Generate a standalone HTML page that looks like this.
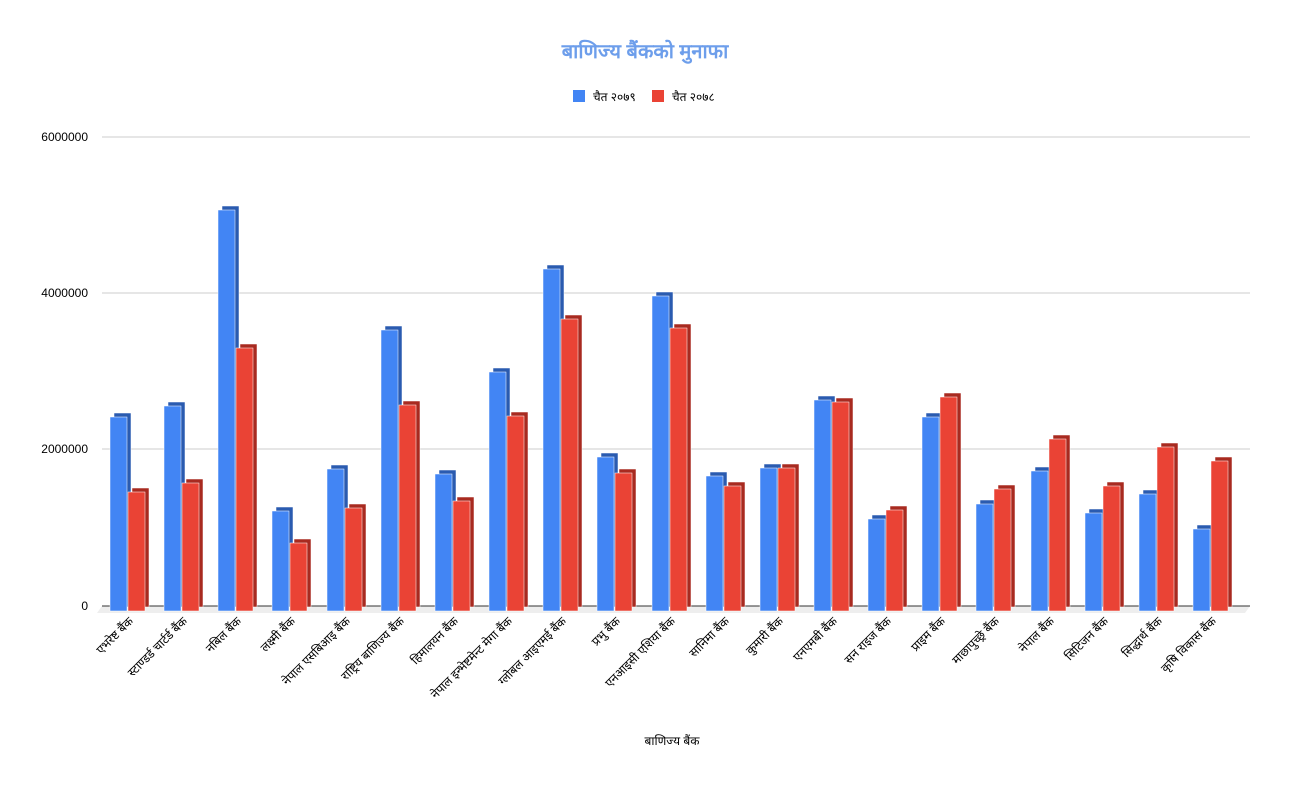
<!DOCTYPE html>
<html><head><meta charset="utf-8"><style>body{margin:0;background:#fff}svg{display:block;font-family:"Liberation Sans","Noto Sans CJK SC",sans-serif}
.b rect{fill:#4285f4}.b rect.d{fill:#2a5bb0}.r rect{fill:#ea4335}.r rect.d{fill:#a82a20}
rect{stroke:#fff;stroke-width:0.5}</style></head><body>
<svg width="1289" height="787" xmlns="http://www.w3.org/2000/svg">
<text x="645" y="58" text-anchor="middle" font-size="20" font-weight="bold" fill="#6d9eeb">बाणिज्य बैंकको मुनाफा</text>
<rect x="573" y="90" width="12" height="12" fill="#4285f4" style="stroke:none"/><text x="593" y="101" font-size="12">चैत २०७९</text>
<rect x="652" y="90" width="12" height="12" fill="#ea4335" style="stroke:none"/><text x="672" y="101" font-size="12">चैत २०७८</text>
<g stroke="#ccc" stroke-width="1"><line x1="102" y1="137" x2="1250" y2="137"/><line x1="102" y1="293" x2="1250" y2="293"/><line x1="102" y1="449" x2="1250" y2="449"/></g>
<polygon points="102,606 1250,606 1245,613 97,613" fill="#eee"/>
<line x1="102" y1="606" x2="1250" y2="606" stroke="#333"/>
<g font-size="12" text-anchor="end"><text x="88" y="141">6000000</text><text x="88" y="297">4000000</text><text x="88" y="453">2000000</text><text x="88" y="610">0</text></g>
<g class="b">
<rect class="d" x="114" y="413" width="17" height="194"/><rect x="110" y="417" width="17" height="194"/>
<rect class="d" x="168" y="402" width="17" height="205"/><rect x="164" y="406" width="17" height="205"/>
<rect class="d" x="222" y="206" width="17" height="401"/><rect x="218" y="210" width="17" height="401"/>
<rect class="d" x="276" y="507" width="17" height="100"/><rect x="272" y="511" width="17" height="100"/>
<rect class="d" x="331" y="465" width="17" height="142"/><rect x="327" y="469" width="17" height="142"/>
<rect class="d" x="385" y="326" width="17" height="281"/><rect x="381" y="330" width="17" height="281"/>
<rect class="d" x="439" y="470" width="17" height="137"/><rect x="435" y="474" width="17" height="137"/>
<rect class="d" x="493" y="368" width="17" height="239"/><rect x="489" y="372" width="17" height="239"/>
<rect class="d" x="547" y="265" width="17" height="342"/><rect x="543" y="269" width="17" height="342"/>
<rect class="d" x="601" y="453" width="17" height="154"/><rect x="597" y="457" width="17" height="154"/>
<rect class="d" x="656" y="292" width="17" height="315"/><rect x="652" y="296" width="17" height="315"/>
<rect class="d" x="710" y="472" width="17" height="135"/><rect x="706" y="476" width="17" height="135"/>
<rect class="d" x="764" y="464" width="17" height="143"/><rect x="760" y="468" width="17" height="143"/>
<rect class="d" x="818" y="396" width="17" height="211"/><rect x="814" y="400" width="17" height="211"/>
<rect class="d" x="872" y="515" width="17" height="92"/><rect x="868" y="519" width="17" height="92"/>
<rect class="d" x="926" y="413" width="17" height="194"/><rect x="922" y="417" width="17" height="194"/>
<rect class="d" x="980" y="500" width="17" height="107"/><rect x="976" y="504" width="17" height="107"/>
<rect class="d" x="1035" y="467" width="17" height="140"/><rect x="1031" y="471" width="17" height="140"/>
<rect class="d" x="1089" y="509" width="17" height="98"/><rect x="1085" y="513" width="17" height="98"/>
<rect class="d" x="1143" y="490" width="17" height="117"/><rect x="1139" y="494" width="17" height="117"/>
<rect class="d" x="1197" y="525" width="17" height="82"/><rect x="1193" y="529" width="17" height="82"/>
</g>
<g class="r">
<rect class="d" x="132" y="488" width="17" height="119"/><rect x="128" y="492" width="17" height="119"/>
<rect class="d" x="186" y="479" width="17" height="128"/><rect x="182" y="483" width="17" height="128"/>
<rect class="d" x="240" y="344" width="17" height="263"/><rect x="236" y="348" width="17" height="263"/>
<rect class="d" x="294" y="539" width="17" height="68"/><rect x="290" y="543" width="17" height="68"/>
<rect class="d" x="349" y="504" width="17" height="103"/><rect x="345" y="508" width="17" height="103"/>
<rect class="d" x="403" y="401" width="17" height="206"/><rect x="399" y="405" width="17" height="206"/>
<rect class="d" x="457" y="497" width="17" height="110"/><rect x="453" y="501" width="17" height="110"/>
<rect class="d" x="511" y="412" width="17" height="195"/><rect x="507" y="416" width="17" height="195"/>
<rect class="d" x="565" y="315" width="17" height="292"/><rect x="561" y="319" width="17" height="292"/>
<rect class="d" x="619" y="469" width="17" height="138"/><rect x="615" y="473" width="17" height="138"/>
<rect class="d" x="674" y="324" width="17" height="283"/><rect x="670" y="328" width="17" height="283"/>
<rect class="d" x="728" y="482" width="17" height="125"/><rect x="724" y="486" width="17" height="125"/>
<rect class="d" x="782" y="464" width="17" height="143"/><rect x="778" y="468" width="17" height="143"/>
<rect class="d" x="836" y="398" width="17" height="209"/><rect x="832" y="402" width="17" height="209"/>
<rect class="d" x="890" y="506" width="17" height="101"/><rect x="886" y="510" width="17" height="101"/>
<rect class="d" x="944" y="393" width="17" height="214"/><rect x="940" y="397" width="17" height="214"/>
<rect class="d" x="998" y="485" width="17" height="122"/><rect x="994" y="489" width="17" height="122"/>
<rect class="d" x="1053" y="435" width="17" height="172"/><rect x="1049" y="439" width="17" height="172"/>
<rect class="d" x="1107" y="482" width="17" height="125"/><rect x="1103" y="486" width="17" height="125"/>
<rect class="d" x="1161" y="443" width="17" height="164"/><rect x="1157" y="447" width="17" height="164"/>
<rect class="d" x="1215" y="457" width="17" height="150"/><rect x="1211" y="461" width="17" height="150"/>
</g>
<g font-size="12" text-anchor="end">
<text transform="translate(134,622) rotate(-45)">एभरेष्ट बैंक</text>
<text transform="translate(188,622) rotate(-45)">स्टाण्डर्ड चार्टर्ड बैंक</text>
<text transform="translate(242,622) rotate(-45)">नबिल बैंक</text>
<text transform="translate(296,622) rotate(-45)">लक्ष्मी बैंक</text>
<text transform="translate(351,622) rotate(-45)">नेपाल एसबिआइ बैंक</text>
<text transform="translate(405,622) rotate(-45)">राष्ट्रिय बाणिज्य बैंक</text>
<text transform="translate(459,622) rotate(-45)">हिमालयन बैंक</text>
<text transform="translate(513,622) rotate(-45)">नेपाल इन्भेष्टमेन्ट मेगा बैंक</text>
<text transform="translate(567,622) rotate(-45)">ग्लोबल आइएमई बैंक</text>
<text transform="translate(621,622) rotate(-45)">प्रभु बैंक</text>
<text transform="translate(676,622) rotate(-45)">एनआइसी एशिया बैंक</text>
<text transform="translate(730,622) rotate(-45)">सानिमा बैंक</text>
<text transform="translate(784,622) rotate(-45)">कुमारी बैंक</text>
<text transform="translate(838,622) rotate(-45)">एनएमबी बैंक</text>
<text transform="translate(892,622) rotate(-45)">सन राइज बैंक</text>
<text transform="translate(946,622) rotate(-45)">प्राइम बैंक</text>
<text transform="translate(1000,622) rotate(-45)">माछापुच्छ्रे बैंक</text>
<text transform="translate(1055,622) rotate(-45)">नेपाल बैंक</text>
<text transform="translate(1109,622) rotate(-45)">सिटिजन बैंक</text>
<text transform="translate(1163,622) rotate(-45)">सिद्धार्थ बैंक</text>
<text transform="translate(1217,622) rotate(-45)">कृषि विकास बैंक</text>
</g>
<text x="672" y="745" text-anchor="middle" font-size="12">बाणिज्य बैंक</text>
</svg>
</body></html>
